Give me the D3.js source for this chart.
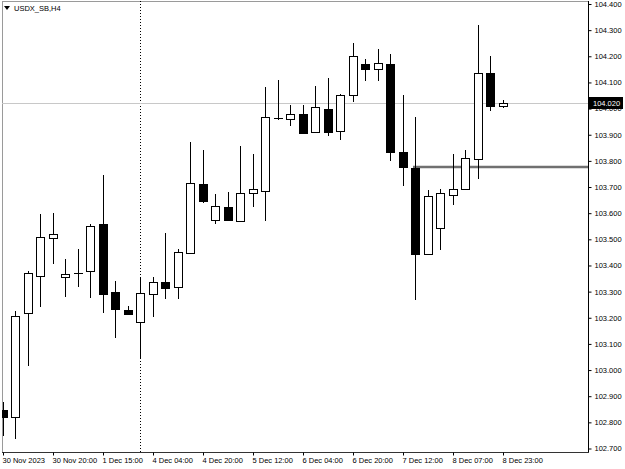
<!DOCTYPE html>
<html>
<head>
<meta charset="utf-8">
<script src="https://cdn.jsdelivr.net/npm/d3@7"></script>
<style>
  body { margin: 0; background: #fff; }
  svg { display: block; font-family: "Liberation Sans", Arial, sans-serif; }
</style>
</head>
<body>
<div id="vis"></div>
<script>
// H4 candles, USDX_SB, 30 Nov - 8 Dec 2023
let open  = [102.849, 102.819, 103.220, 103.361, 103.506, 103.357, 103.373, 103.380, 103.560, 103.300,
             103.231, 103.182, 103.289, 103.338, 103.319, 103.449, 103.713, 103.575, 103.625, 103.571,
             103.678, 103.686, 103.965, 103.961, 103.980, 103.911, 103.999, 103.915, 104.052, 104.171,
             104.152, 104.171, 103.835, 103.774, 103.445, 103.544, 103.670, 103.693, 103.808, 104.136,
             104.010];
let high  = [102.876, 103.224, 103.380, 103.598, 103.602, 103.426, 103.464, 103.560, 103.747, 103.342,
             103.246, 103.353, 103.357, 103.525, 103.464, 103.873, 103.842, 103.674, 103.682, 103.858,
             103.827, 104.083, 104.110, 104.014, 104.014, 104.087, 104.117, 104.056, 104.251, 104.190,
             104.228, 104.209, 104.052, 103.968, 103.690, 103.693, 103.827, 103.842, 104.320, 104.201,
             104.033];
let low   = [102.746, 102.735, 103.017, 103.243, 103.407, 103.281, 103.319, 103.277, 103.220, 103.124,
             103.212, 103.044, 103.204, 103.273, 103.273, 103.445, 103.640, 103.560, 103.571, 103.571,
             103.625, 103.571, 103.957, 103.934, 103.903, 103.911, 103.896, 103.881, 104.026, 104.106,
             104.106, 103.800, 103.705, 103.269, 103.445, 103.460, 103.632, 103.693, 103.732, 103.991,
             104.003];
let close = [102.822, 103.208, 103.373, 103.510, 103.521, 103.369, 103.373, 103.552, 103.292, 103.235,
             103.216, 103.296, 103.338, 103.315, 103.453, 103.716, 103.648, 103.628, 103.575, 103.678,
             103.693, 103.968, 103.965, 103.980, 103.907, 104.007, 103.911, 104.052, 104.201, 104.152,
             104.175, 103.835, 103.777, 103.445, 103.667, 103.678, 103.693, 103.812, 104.136, 104.010,
             104.020];

let timeLabels = ['30 Nov 2023', '30 Nov 20:00', '1 Dec 15:00', '4 Dec 04:00', '4 Dec 20:00',
                  '5 Dec 12:00', '6 Dec 04:00', '6 Dec 20:00', '7 Dec 12:00', '8 Dec 07:00', '8 Dec 23:00'];
let priceTicks = [102.7, 102.8, 102.9, 103.0, 103.1, 103.2, 103.3, 103.4, 103.5, 103.6,
                  103.7, 103.8, 103.9, 104.0, 104.1, 104.2, 104.3, 104.4];
let bidPrice = 104.020;
let levelLine = 103.777;
let separatorBar = 11;
let levelStartBar = 33;

let W = 625, H = 469;
let pLeft = 2, pTop = 1, pRight = 588, pBottom = 452;

let svg = d3.select('#vis').append('svg')
  .attr('width', W)
  .attr('height', H);

let x = d3.scaleLinear().domain([0, open.length - 1]).range([2.5, 502.5]);
let y = d3.scaleLinear().domain([102.7, 104.4]).range([448.5, 4]);

svg.append('clipPath').attr('id', 'plot')
  .append('rect').attr('x', pLeft).attr('y', pTop).attr('width', pRight - pLeft).attr('height', pBottom - pTop);

// frame
svg.append('rect')
  .attr('x', pLeft + 0.5).attr('y', pTop + 0.5)
  .attr('width', pRight - pLeft).attr('height', pBottom - pTop)
  .attr('fill', 'none').attr('stroke', '#9a9a9a');

let plot = svg.append('g').attr('clip-path', 'url(#plot)');

// period separator
let sx = Math.round(x(separatorBar)) + 0.5;
plot.append('line')
  .attr('x1', sx).attr('x2', sx).attr('y1', pTop).attr('y2', pBottom)
  .attr('stroke', '#000').attr('stroke-dasharray', '1,2');

// bid line
plot.append('line')
  .attr('x1', pLeft).attr('x2', pRight)
  .attr('y1', Math.round(y(bidPrice)) + 0.5).attr('y2', Math.round(y(bidPrice)) + 0.5)
  .attr('stroke', '#c8c8c8');

// horizontal level
plot.append('line')
  .attr('x1', Math.round(x(levelStartBar)) - 2).attr('x2', pRight)
  .attr('y1', y(levelLine)).attr('y2', y(levelLine))
  .attr('stroke', '#707070').attr('stroke-width', 2.5);

// candles
let idx = d3.range(open.length);
let candles = plot.selectAll('g.candle').data(idx).enter().append('g').attr('class', 'candle');

candles.append('line')
  .attr('x1', i => Math.round(x(i)) + 0.5)
  .attr('x2', i => Math.round(x(i)) + 0.5)
  .attr('y1', i => Math.round(y(high[i])))
  .attr('y2', i => Math.round(y(low[i])))
  .attr('stroke', '#000');

candles.each(function(i) {
  let g = d3.select(this);
  let cx = Math.round(x(i));
  let yo = Math.round(y(open[i])), yc = Math.round(y(close[i]));
  let yt = Math.min(yo, yc), hb = Math.abs(yo - yc);
  if (hb < 1) {
    g.append('line')
      .attr('x1', cx - 4).attr('x2', cx + 5)
      .attr('y1', yt + 0.5).attr('y2', yt + 0.5)
      .attr('stroke', '#000');
  } else {
    g.append('rect')
      .attr('x', cx - 3.5).attr('y', yt + 0.5)
      .attr('width', 8).attr('height', hb)
      .attr('fill', close[i] < open[i] ? '#000' : '#fff')
      .attr('stroke', '#000');
  }
});

// price axis
let yAxis = svg.append('g')
  .attr('transform', 'translate(' + (pRight + 0.5) + ',0)')
  .call(d3.axisRight(y).tickValues(priceTicks).tickFormat(d3.format('.3f')).tickSize(3).tickPadding(3));
yAxis.select('.domain').attr('d', 'M0,' + pTop + 'V' + (pBottom + 1)).attr('stroke', '#000');
yAxis.selectAll('text').attr('font-size', 7.5).attr('fill', '#000').attr('font-family', '"Liberation Sans", Arial, sans-serif');

// time axis
let tickIdx = timeLabels.map((d, k) => k * 4);
let xAxis = svg.append('g')
  .attr('transform', 'translate(0,' + (pBottom + 0.5) + ')')
  .call(d3.axisBottom(x).tickValues(tickIdx).tickFormat((d, k) => timeLabels[k]).tickSize(3).tickPadding(2));
xAxis.select('.domain').attr('d', 'M' + pLeft + ',0H' + (pRight + 1)).attr('stroke', '#333');
xAxis.selectAll('.tick').attr('transform', d => 'translate(' + (Math.round(x(d)) + 0.5) + ',0)');
xAxis.selectAll('text')
  .attr('text-anchor', 'start').attr('x', -1)
  .attr('font-size', 7.5).attr('fill', '#000').attr('font-family', '"Liberation Sans", Arial, sans-serif');

// bid label
let by = Math.round(y(bidPrice));
svg.append('rect')
  .attr('x', pRight + 1).attr('y', by - 6).attr('width', 34).attr('height', 12)
  .attr('fill', '#000');
svg.append('text')
  .attr('x', pRight + 5).attr('y', by + 3)
  .attr('font-size', 7.5).attr('fill', '#fff')
  .text(d3.format('.3f')(bidPrice));

// title
svg.append('path')
  .attr('d', 'M4,6H10L7,10Z').attr('fill', '#000');
svg.append('text')
  .attr('x', 14).attr('y', 11)
  .attr('font-size', 7.5).attr('fill', '#000')
  .text('USDX_SB,H4');
</script>
</body>
</html>
